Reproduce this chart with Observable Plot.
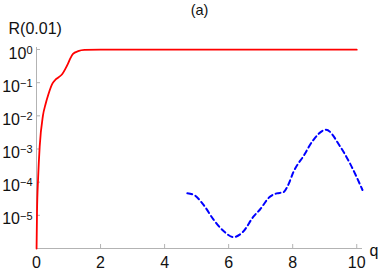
<!DOCTYPE html>
<html>
<head>
<meta charset="utf-8">
<script src="https://cdn.jsdelivr.net/npm/d3@7"></script>
<script src="https://cdn.jsdelivr.net/npm/@observablehq/plot@0.6"></script>
<style>
  html, body { margin: 0; padding: 0; background: #fff; }
  svg { font-family: "Liberation Sans", Arial, sans-serif; }
</style>
</head>
<body>
<div id="chart"></div>
<script>
const title = "(a)";
const yTitle = "R(0.01)";
const xTitle = "q";

const xTicks = [0, 2, 4, 6, 8, 10];
const yTicks = [1, 0.1, 0.01, 1e-3, 1e-4, 1e-5];
const yTickExp = ["0", "\u22121", "\u22122", "\u22123", "\u22124", "\u22125"];

// red solid curve
const qRed = [0.002, 0.016, 0.05, 0.1, 0.2, 0.28, 0.37, 0.5, 0.6, 0.7, 0.8, 0.9, 0.98, 1.06, 1.14, 1.3, 1.5, 2.0, 10];
const rRed = [1e-6, 1.2e-5, 1.3e-4, 1.2e-3, 1.0e-2, 2.2e-2, 4.4e-2, 0.095, 0.125, 0.148, 0.18, 0.26, 0.37, 0.55, 0.74, 0.89, 0.97, 0.99, 0.99];

// blue dashed curve
const qBlue = [4.71, 4.9, 5.21, 5.53, 5.85, 6.15, 6.45, 6.78, 6.98, 7.27, 7.5, 7.7, 7.85, 8.03, 8.34, 8.65, 9.04, 9.48, 9.8, 10.18];
const rBlue = [4.6e-5, 4.2e-5, 2.1e-5, 7.4e-6, 3.3e-6, 2.2e-6, 3.2e-6, 9.3e-6, 1.5e-5, 3.5e-5, 4.6e-5, 4.9e-5, 7.9e-5, 2.1e-4, 6.2e-4, 1.9e-3, 3.8e-3, 1.2e-3, 3.5e-4, 5.8e-5];

const red = qRed.map((q, i) => ({q, r: rRed[i]}));
const blue = qBlue.map((q, i) => ({q, r: rBlue[i]}));

const axisColor = "#b3b3b3";

const plot = Plot.plot({
  width: 382,
  height: 273,
  marginLeft: 36,
  marginRight: 20,
  marginTop: 47,
  marginBottom: 25,
  style: {fontFamily: "'Liberation Sans', Arial, sans-serif", background: "#fff"},
  x: {domain: [0, 10.18], axis: null},
  y: {type: "log", domain: [1e-6, 1.15], axis: null},
  marks: [
    Plot.ruleX([0], {stroke: axisColor, strokeWidth: 1}),
    Plot.ruleY([1e-6], {stroke: axisColor, strokeWidth: 1}),
    Plot.tickX(xTicks, {x: d => d, insetTop: 197, stroke: axisColor}),
    Plot.tickY(yTicks, {y: d => d, insetRight: 322, stroke: axisColor}),
    Plot.text(xTicks, {x: d => d, text: d => String(d), frameAnchor: "bottom", lineAnchor: "middle", dy: 14, fontSize: 16, fill: "#111"}),
    Plot.text(yTicks, {y: d => d, text: (d, i) => "10|" + yTickExp[i], frameAnchor: "left", lineAnchor: "middle", dx: -4, dy: 4, textAnchor: "end", fontSize: 16, fill: "#111"}),
    Plot.line(red, {x: "q", y: "r", stroke: "#ff0000", strokeWidth: 1.8, curve: "monotone-x"}),
    Plot.line(blue, {x: "q", y: "r", stroke: "#0000ff", strokeWidth: 2, strokeDasharray: "5,3.5", curve: "monotone-x"}),
    Plot.text([xTitle], {frameAnchor: "bottom-right", lineAnchor: "middle", dx: 7, dy: 2, textAnchor: "start", fontSize: 16, fill: "#111"}),
    Plot.text([yTitle], {frameAnchor: "top-left", lineAnchor: "top", dx: -28, dy: -25, textAnchor: "start", fontSize: 16, fill: "#111"}),
    Plot.text([title], {frameAnchor: "top", lineAnchor: "top", dx: 0, dy: -43, fontSize: 14.5, fill: "#111"})
  ]
});

d3.select(plot).selectAll("text").each(function() {
  const t = d3.select(this);
  const s = t.text();
  if (s.indexOf("|") < 0) return;
  const parts = s.split("|");
  t.text(parts[0]);
  t.append("tspan").attr("dy", "-0.45em").attr("font-size", 11).text(parts[1]);
});

document.getElementById("chart").appendChild(plot);
</script>
</body>
</html>
